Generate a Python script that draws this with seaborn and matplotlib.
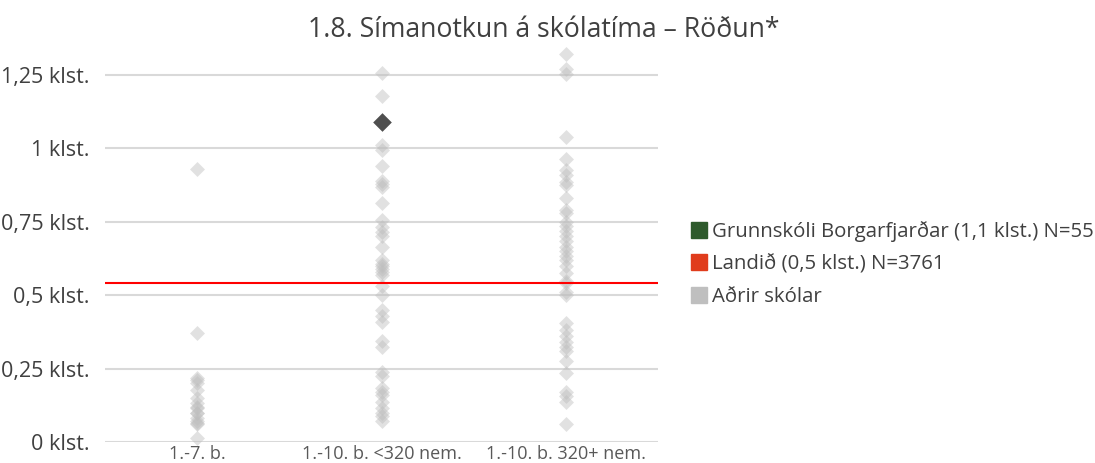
import matplotlib
matplotlib.use("Agg")
import matplotlib.pyplot as plt
from matplotlib.lines import Line2D
import pandas as pd
import seaborn as sns

# School groups on the x axis
categories = ["1.-7. b.", "1.-10. b. <320 nem.", "1.-10. b. 320+ nem."]

# Phone use during school hours (hours), one value per other school
group_small = [0.93, 0.37, 0.218, 0.20, 0.21, 0.177, 0.15, 0.133, 0.12, 0.116,
               0.10, 0.099, 0.082, 0.07, 0.065, 0.06, 0.014]
group_mid = [1.258, 1.178, 1.01, 0.995, 0.94, 0.89, 0.88, 0.87, 0.815, 0.756,
             0.733, 0.716, 0.70, 0.665, 0.62, 0.605, 0.60, 0.59, 0.58, 0.57,
             0.53, 0.50, 0.45, 0.43, 0.41, 0.345, 0.325, 0.24, 0.225, 0.185,
             0.17, 0.16, 0.135, 0.115, 0.10, 0.09, 0.07]
group_large = [1.32, 1.27, 1.255, 1.04, 0.965, 0.925, 0.91, 0.885, 0.875, 0.83,
               0.79, 0.78, 0.75, 0.735, 0.72, 0.70, 0.685, 0.665, 0.65, 0.635,
               0.62, 0.60, 0.575, 0.55, 0.54, 0.51, 0.50, 0.405, 0.38, 0.36,
               0.34, 0.325, 0.31, 0.275, 0.235, 0.17, 0.155, 0.135, 0.06]

# Highlighted school and national average
school_group = "1.-10. b. <320 nem."
school_value = 1.09
national_value = 0.54

y_ticks = [0, 0.25, 0.5, 0.75, 1.0, 1.25]
y_tick_labels = ["0 klst.", "0,25 klst.", "0,5 klst.", "0,75 klst.", "1 klst.", "1,25 klst."]

legend_labels = ["Grunnskóli Borgarfjarðar (1,1 klst.) N=55",
                 "Landið (0,5 klst.) N=3761",
                 "Aðrir skólar"]
title = "1.8. Símanotkun á skólatíma – Röðun*"

sns.set_theme(style="white")
plt.rcParams["font.family"] = ["Open Sans", "DejaVu Sans"]

others = pd.DataFrame({
    "group": [categories[0]] * len(group_small)
             + [categories[1]] * len(group_mid)
             + [categories[2]] * len(group_large),
    "value": group_small + group_mid + group_large,
})
school = pd.DataFrame({"group": [school_group], "value": [school_value]})

fig = plt.figure(figsize=(10.95, 4.63), dpi=100)
ax = fig.add_axes([0.096, 0.0454, 0.505, 0.856])

for t in y_ticks:
    ax.axhline(t, color="#d9d9d9", lw=1.5, zorder=0)

sns.stripplot(data=others, x="group", y="value", order=categories, jitter=False,
              marker="D", s=7.6, color="#bdbdbd", alpha=0.45, linewidth=0,
              ax=ax, zorder=2, clip_on=False)
sns.stripplot(data=school, x="group", y="value", order=categories, jitter=False,
              marker="D", s=9.5, color="#4f4f4f", linewidth=0,
              ax=ax, zorder=4, clip_on=False)

ax.axhline(national_value, color="#ff0000", lw=1.5, zorder=3)

ax.set_xlim(-0.5, 2.5)
ax.set_ylim(0, 1.35)
ax.set_yticks(y_ticks)
ax.set_yticklabels(y_tick_labels, fontsize=15.5, color="#404040")
ax.tick_params(axis="y", length=0, pad=11)
ax.tick_params(axis="x", length=0, pad=2, labelsize=13, labelcolor="#595959")
ax.set_xlabel("")
ax.set_ylabel("")
for side in ax.spines.values():
    side.set_visible(False)

fig.text(0.497, 0.935, title, ha="center", va="center", fontsize=19.2, color="#404040")

handles = [
    Line2D([], [], marker="s", linestyle="none", markersize=11, color="#2e5a2c"),
    Line2D([], [], marker="s", linestyle="none", markersize=11, color="#e03c1c"),
    Line2D([], [], marker="s", linestyle="none", markersize=11, color="#bfbfbf"),
]
fig.legend(handles, legend_labels, loc="center left", bbox_to_anchor=(0.624, 0.43),
           frameon=False, fontsize=14.7, labelcolor="#404040", handlelength=0.7,
           handletextpad=0.3, labelspacing=0.62, borderaxespad=0)

fig.savefig("out.png", dpi=100)
